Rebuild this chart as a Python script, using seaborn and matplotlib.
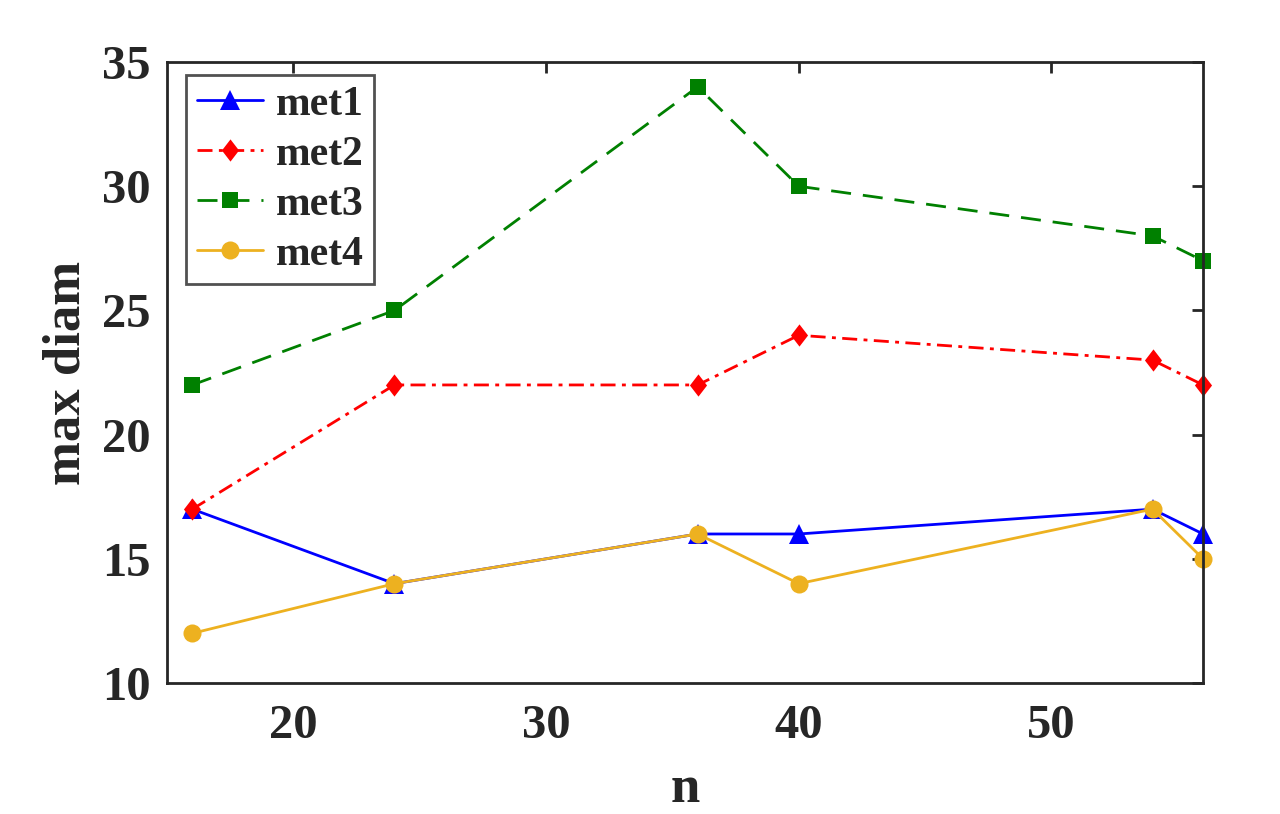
import matplotlib
matplotlib.use('Agg')
import matplotlib.pyplot as plt
from matplotlib.path import Path
import seaborn as sns
import pandas as pd

# data
n_vals = [16, 24, 36, 40, 54, 56]
met1 = [17, 14, 16, 16, 17, 16]
met2 = [17, 22, 22, 24, 23, 22]
met3 = [22, 25, 34, 30, 28, 27]
met4 = [12, 14, 16, 14, 17, 15]
names = ['met1', 'met2', 'met3', 'met4']
x_ticks = [20, 30, 40, 50]
y_ticks = [10, 15, 20, 25, 30, 35]

sns.set_style('white')
plt.rcParams['font.family'] = ['Liberation Serif', 'DejaVu Serif']
plt.rcParams['font.weight'] = 'bold'

fig = plt.figure(figsize=(12.8, 8.14), dpi=100)
ax = fig.add_axes([0.1305, 0.1609, 0.8094, 0.7629])

# MATLAB-like diamond (taller than wide)
diamond = Path([(0, 1), (0.77, 0), (0, -1), (-0.77, 0), (0, 1)],
               [Path.MOVETO, Path.LINETO, Path.LINETO, Path.LINETO, Path.CLOSEPOLY])

styles = {
    'met1': dict(color=(0, 0, 1), marker='^', linestyle='-', ms=14.5),
    'met2': dict(color=(1, 0, 0), marker=diamond, linestyle=(0, (5.4, 2.3, 1.4, 2.3)), ms=16),
    'met3': dict(color=(0, 0.5, 0), marker='s', linestyle=(0, (7.2, 4.3)), ms=11.5),
    'met4': dict(color=(0.929, 0.694, 0.125), marker='o', linestyle='-', ms=13),
}

for name, vals in zip(names, [met1, met2, met3, met4]):
    df = pd.DataFrame({'n': n_vals, 'v': vals})
    st = styles[name]
    sns.lineplot(data=df, x='n', y='v', ax=ax, color=st['color'], marker=st['marker'],
                 linestyle=st['linestyle'], markersize=st['ms'], markeredgewidth=0,
                 linewidth=2.0, label=name, clip_on=False)

ax.set_xlim(15, 56)
ax.set_ylim(10, 35)
ax.set_xticks(x_ticks)
ax.set_yticks(y_ticks)
ax.tick_params(direction='in', length=8, width=2, top=True, right=True,
               labelsize=35, colors='#262626')
ax.tick_params(axis='x', pad=15)
ax.tick_params(axis='y', pad=12)
for lab in ax.get_xticklabels() + ax.get_yticklabels():
    lab.set_fontweight('bold')
for sp in ax.spines.values():
    sp.set_linewidth(2)
    sp.set_color('#262626')

ax.set_xlabel('n', fontsize=38, fontweight='bold', color='#262626', labelpad=12)
ax.set_ylabel('max diam', fontsize=38, fontweight='bold', color='#262626', labelpad=8)

leg = ax.legend(loc='upper left', bbox_to_anchor=(0.018, 0.979), fontsize=30,
                frameon=True, fancybox=False, handlelength=1.6, handletextpad=0.3,
                labelspacing=0.28, borderpad=0.26, borderaxespad=0)
leg.get_frame().set_edgecolor('#262626')
leg.get_frame().set_linewidth(2)
for t in leg.get_texts():
    t.set_fontweight('bold')

fig.savefig('out.png', dpi=100)
